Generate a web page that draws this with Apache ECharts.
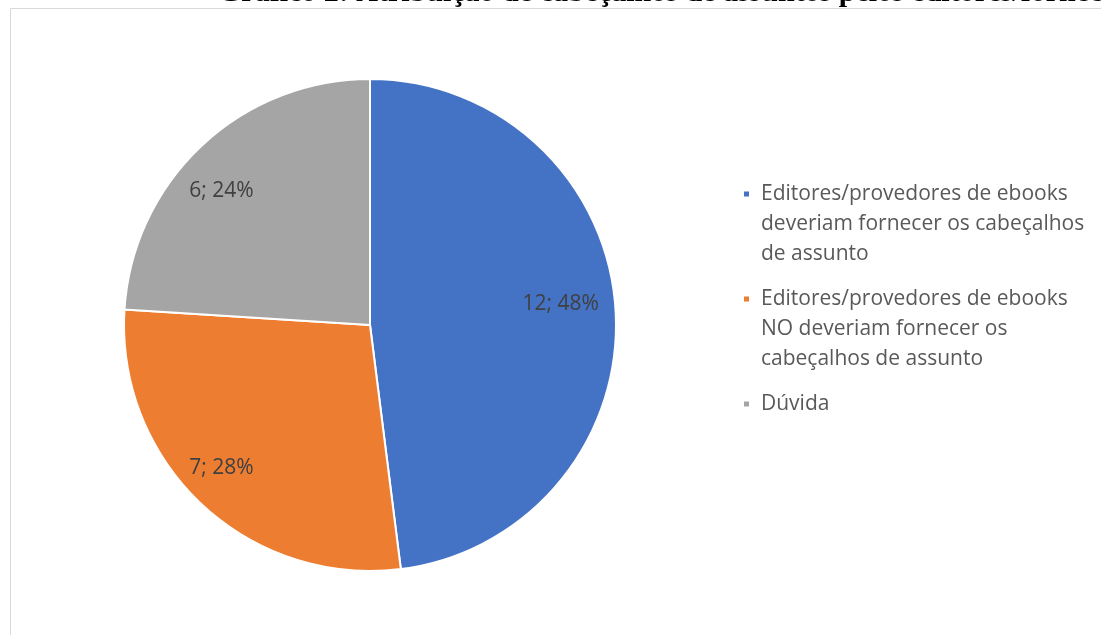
<!DOCTYPE html>
<html>
<head>
<meta charset="utf-8">
<script src="https://cdn.jsdelivr.net/npm/echarts@6/dist/echarts.min.js"></script>
<style>
html,body{margin:0;padding:0;background:#fff;}
#chart{width:1101px;height:635px;}
</style>
</head>
<body>
<div id="chart"></div>
<script>
const titleText = 'Gráfico 2: Atribuição de cabeçalhos de assuntos pelos editores/fornecedores';
const categories = [
  'Editores/provedores de ebooks deveriam fornecer os cabeçalhos de assunto',
  'Editores/provedores de ebooks NO deveriam fornecer os cabeçalhos de assunto',
  'Dúvida'
];
const legendLines = [
  ['Editores/provedores de ebooks', 'deveriam fornecer os cabeçalhos', 'de assunto'],
  ['Editores/provedores de ebooks', 'NO deveriam fornecer os', 'cabeçalhos de assunto'],
  ['Dúvida']
];
const values = [12, 7, 6];
const colors = ['#4472C4', '#ED7D31', '#A5A5A5'];
const labelShift = [[-10, -8], [-11, -4], [-11, 13]];

const LH = 30;
const chart = echarts.init(document.getElementById('chart'));
const pieData = categories.map((c, i) => ({ name: c, value: values[i], itemStyle: { color: colors[i] } }));
// pad every legend entry to 5 lines so that the icon sits beside the first text line
function legendText(name) {
  const lines = legendLines[categories.indexOf(name)];
  const below = 3 - lines.length;
  return ['', ''].concat(lines, new Array(below).fill('')).join('\n');
}
chart.setOption({
  animation: false,
  backgroundColor: '#fff',
  graphic: [
    { type: 'rect', shape: { x: 10.5, y: 8.5, width: 1200, height: 700 }, style: { fill: 'none', stroke: '#d9d9d9', lineWidth: 1 }, z: -1 },
    { type: 'text', x: 218, y: -7, style: { text: titleText, font: 'bold 30px "Liberation Serif"', fill: '#000', verticalAlign: 'middle' } }
  ],
  legend: {
    orient: 'vertical',
    left: 742,
    top: 119,
    padding: 0,
    itemWidth: 7,
    itemHeight: 7,
    itemGap: LH * 3 + 15 - LH * 5,
    icon: 'rect',
    data: categories,
    formatter: legendText,
    textStyle: { fontFamily: 'Open Sans', fontSize: 21, lineHeight: LH, color: '#595959', padding: [0, 0, 0, 6] }
  },
  series: [
    {
      type: 'pie',
      center: [370, 325],
      radius: 246,
      startAngle: 90,
      clockwise: true,
      data: pieData,
      label: { show: false },
      labelLine: { show: false },
      itemStyle: { borderColor: '#fff', borderWidth: 2 }
    },
    {
      type: 'pie',
      center: [370, 325],
      radius: [150, 246],
      startAngle: 90,
      clockwise: true,
      silent: true,
      percentPrecision: 0,
      data: categories.map((c, i) => ({ name: c, value: values[i], label: { offset: labelShift[i] } })),
      itemStyle: { color: 'rgba(0,0,0,0)' },
      label: { show: true, position: 'inside', formatter: '{c}; {d}%', color: '#404040', fontFamily: 'Open Sans', fontSize: 21 },
      labelLine: { show: false }
    }
  ]
});
</script>
</body>
</html>
